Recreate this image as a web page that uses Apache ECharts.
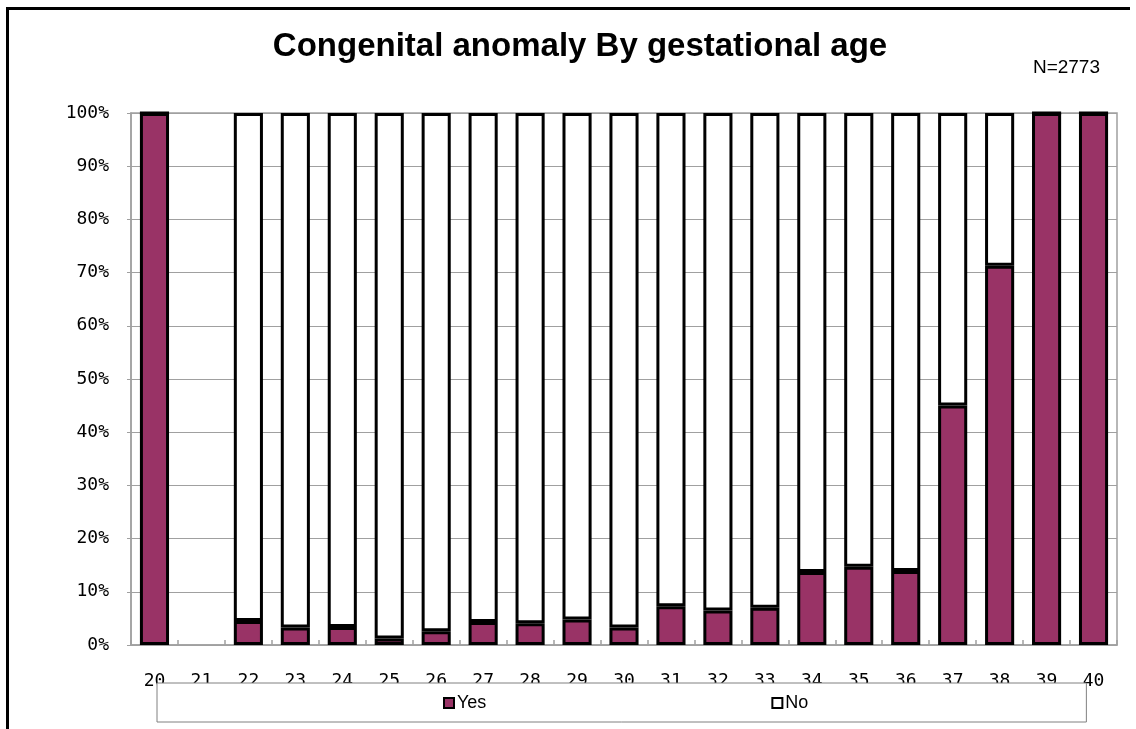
<!DOCTYPE html>
<html>
<head>
<meta charset="utf-8">
<script src="https://cdn.jsdelivr.net/npm/echarts@6/dist/echarts.min.js"></script>
<style>
html,body{margin:0;padding:0;background:#fff;}
#chart{width:1136px;height:729px;}
</style>
</head>
<body>
<div id="chart"></div>
<script>
var categories = ['20','21','22','23','24','25','26','27','28','29','30','31','32','33','34','35','36','37','38','39','40'];
var yesValues = [100, null, 4.5, 3.3, 3.4, 1.2, 2.6, 4.3, 4.1, 4.8, 3.3, 7.3, 6.5, 7.0, 13.7, 14.7, 13.9, 45.0, 71.3, 100, 100];
var noValues = [0, null, 95.5, 96.7, 96.6, 98.8, 97.4, 95.7, 95.9, 95.2, 96.7, 92.7, 93.5, 93.0, 86.3, 85.3, 86.1, 55.0, 28.7, 0, 0];
var seriesNames = ['Yes', 'No'];
var titleText = 'Congenital anomaly By gestational age';
var noteText = 'N=2773';

var chart = echarts.init(document.getElementById('chart'), null, {renderer: 'canvas'});
var monoFont = '"DejaVu Sans Mono", "Liberation Mono", monospace';
var sansFont = '"Liberation Sans", Arial, sans-serif';

chart.setOption({
  backgroundColor: '#ffffff',
  animation: false,
  title: {
    text: titleText,
    left: 575,
    textAlign: 'center',
    top: 25,
    textStyle: {fontFamily: sansFont, fontSize: 33, fontWeight: 'bold', color: '#000'}
  },
  graphic: [
    {type: 'polyline', shape: {points: [[1130, 8.5], [7.5, 8.5], [7.5, 729]]}, style: {stroke: '#000', lineWidth: 3, fill: null}, z: 100},
    {type: 'text', x: 1100, y: 68, style: {text: noteText, textAlign: 'right', textVerticalAlign: 'middle', font: '19px ' + sansFont, fill: '#000'}}
  ],
  legend: {
    data: seriesNames,
    left: 157,
    top: 683,
    orient: 'horizontal',
    padding: [11, 278, 10, 286],
    itemGap: 285,
    itemWidth: 10,
    itemHeight: 10,
    icon: 'rect',
    backgroundColor: '#ffffff',
    borderColor: '#808080',
    borderWidth: 1,
    textStyle: {fontFamily: sansFont, fontSize: 18, color: '#000', padding: [0, 0, 0, -2]},
    zlevel: 1
  },
  grid: {
    left: 131, right: 19, top: 113, bottom: 84,
    show: true, borderColor: '#a0a0a0', borderWidth: 1.5, backgroundColor: '#fff'
  },
  xAxis: {
    type: 'category',
    data: categories,
    axisLine: {lineStyle: {color: '#a0a0a0', width: 1.5}},
    axisTick: {show: true, inside: true, length: 5, alignWithLabel: false, lineStyle: {color: '#a0a0a0', width: 1.5}},
    axisLabel: {fontFamily: monoFont, fontSize: 18, color: '#000', margin: 27, interval: 0},
    splitLine: {show: false}
  },
  yAxis: {
    type: 'value',
    min: 0, max: 100, interval: 10,
    axisLine: {show: true, lineStyle: {color: '#a0a0a0', width: 1.5}},
    axisTick: {show: true, length: 4, lineStyle: {color: '#a0a0a0'}},
    axisLabel: {formatter: '{value}%', fontFamily: monoFont, fontSize: 18, color: '#000', margin: 22},
    splitLine: {show: true, lineStyle: {color: '#a0a0a0', width: 1}}
  },
  series: [
    {
      name: seriesNames[0], type: 'bar', stack: 'total', data: yesValues,
      barWidth: '62%',
      itemStyle: {color: '#993366', borderColor: '#000', borderWidth: 3}
    },
    {
      name: seriesNames[1], type: 'bar', stack: 'total', data: noValues,
      barWidth: '62%',
      itemStyle: {color: '#ffffff', borderColor: '#000', borderWidth: 3}
    }
  ]
});
</script>
</body>
</html>
